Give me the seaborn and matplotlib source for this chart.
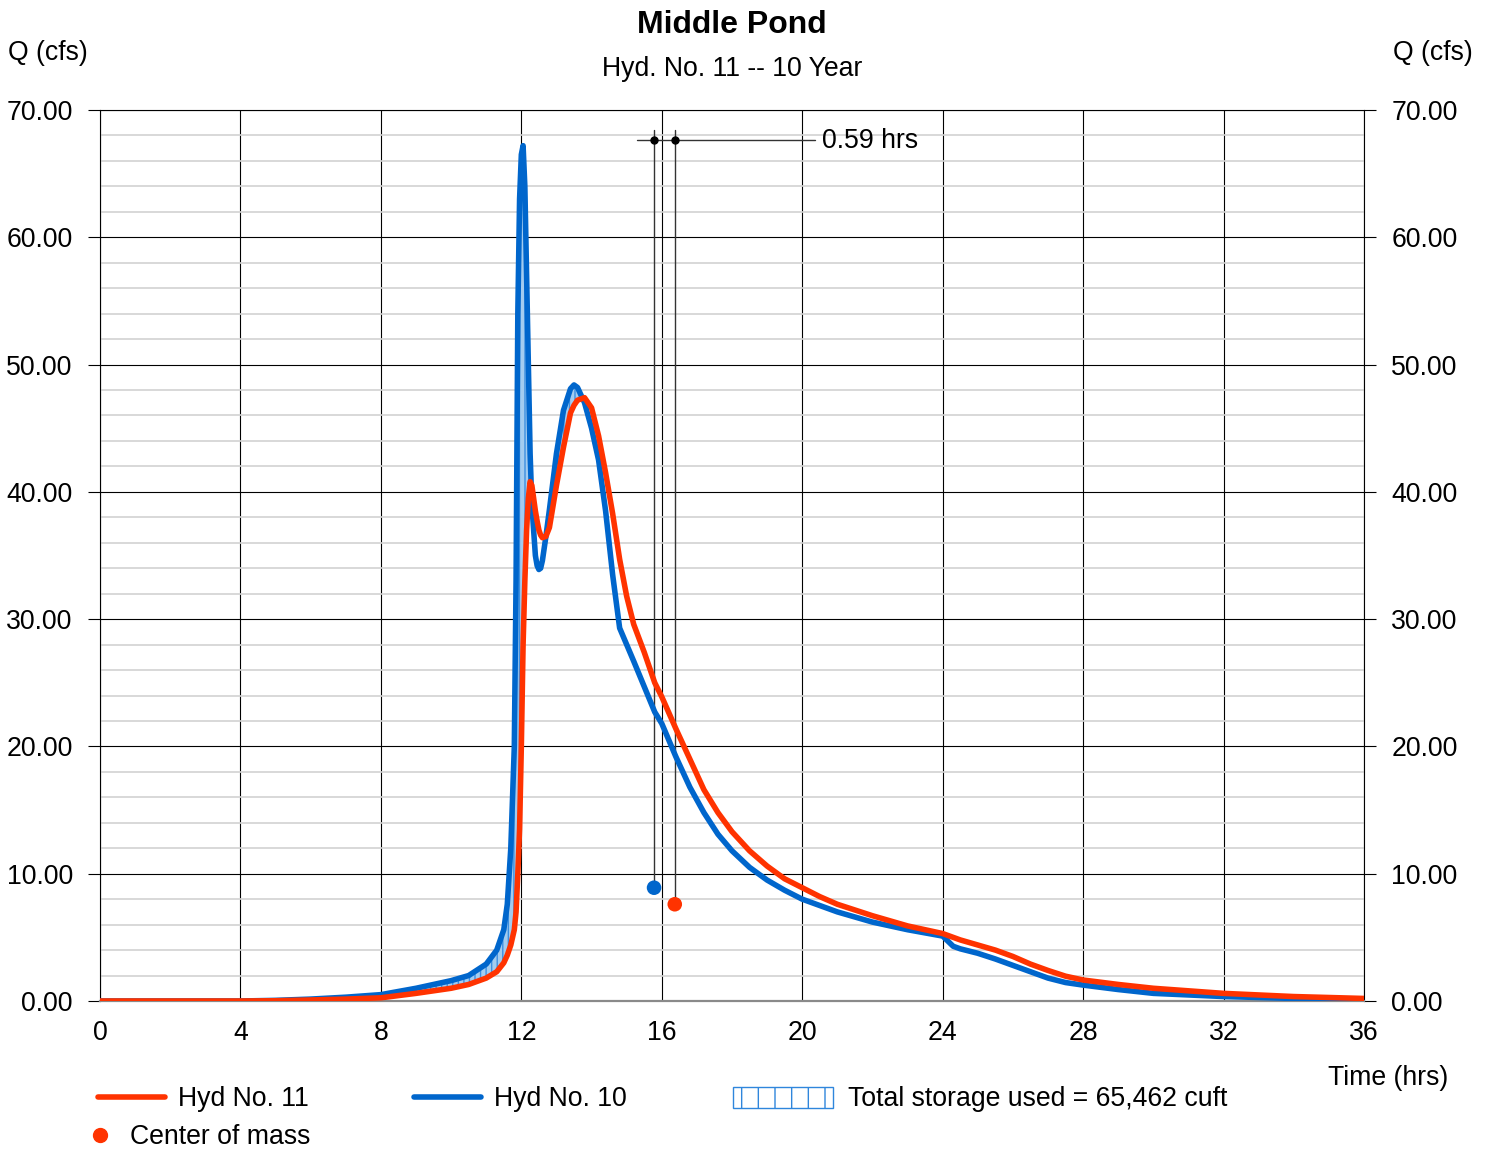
import numpy as np
import pandas as pd
import seaborn as sns
import matplotlib.pyplot as plt
from matplotlib.lines import Line2D
from matplotlib.patches import Rectangle
from matplotlib.ticker import MultipleLocator, FormatStrFormatter

sns.set_style("white")
plt.rcParams['font.family'] = ['Liberation Sans', 'DejaVu Sans']
plt.rcParams['text.color'] = 'black'
plt.rcParams['xtick.color'] = 'black'
plt.rcParams['ytick.color'] = 'black'

# hydrograph values (time in hrs, Q in cfs)
time_hrs = [0, 4, 5, 6, 7, 8, 9, 10, 10.5, 11, 11.3, 11.5, 11.6, 11.7, 11.8, 11.85,
            11.9, 11.95, 12.0, 12.05, 12.1, 12.15, 12.2, 12.25, 12.3, 12.4, 12.45, 12.5,
            12.55, 12.6, 12.7, 12.8, 13.0, 13.2, 13.4, 13.5, 13.6, 13.8, 14.0, 14.2, 14.4,
            14.6, 14.8, 15.0, 15.2, 15.5, 15.8, 16.0, 16.4, 16.8, 17.2, 17.6, 18.0, 18.5,
            19.0, 19.5, 20, 20.5, 21, 22, 23, 24, 24.3, 24.5, 25, 25.5, 26, 26.5, 27, 27.5,
            28, 29, 30, 32, 34, 36]
hyd10_q = [0, 0, 0.05, 0.15, 0.3, 0.5, 1.0, 1.6, 2.0, 2.9, 4.0, 5.6, 7.6, 12.0, 20, 33,
           54, 63, 66.5, 67.2, 64, 57, 50, 43, 39, 35, 34.2, 33.9,
           34.0, 34.6, 36.5, 38.6, 43, 46.4, 48.1, 48.4, 48.2, 47.0, 45.0, 42.5, 38.5,
           33.5, 29.3, 28.0, 26.7, 24.7, 22.7, 21.8, 19.2, 16.8, 14.8, 13.1, 11.8, 10.5,
           9.5, 8.7, 8.0, 7.5, 7.0, 6.2, 5.6, 5.1, 4.3, 4.1, 3.75, 3.3, 2.8, 2.3, 1.8, 1.45,
           1.25, 0.9, 0.6, 0.35, 0.2, 0.1]
hyd11_q = [0, 0, 0.02, 0.08, 0.15, 0.25, 0.6, 1.0, 1.3, 1.8, 2.3, 3.0, 3.6, 4.4, 5.6, 7,
           10, 13.5, 20, 28, 33, 37, 39.5, 40.8, 40.5, 38.5, 37.7, 37.0,
           36.6, 36.4, 36.5, 37.2, 40.5, 43.5, 46.2, 46.8, 47.2, 47.4, 46.6, 44.4, 41.5,
           38.3, 34.7, 31.8, 29.6, 27.4, 25.0, 23.9, 21.4, 19.0, 16.6, 14.8, 13.3, 11.8,
           10.6, 9.6, 8.9, 8.2, 7.6, 6.7, 5.9, 5.3, 5.0, 4.8, 4.4, 4.0, 3.5, 2.9, 2.4, 1.95,
           1.65, 1.3, 1.0, 0.6, 0.35, 0.2]

# centers of mass
com_time = [15.78, 16.37]
com_q = [8.9, 7.6]
lag_label = "0.59 hrs"

red = '#ff3300'
blue = '#0066cc'
FS = 19.2

df = pd.DataFrame({'t': time_hrs, 'in': hyd10_q, 'out': hyd11_q})

W, H = 1491, 1149
fig = plt.figure(figsize=(W / 100, H / 100), dpi=100)
ax = fig.add_axes([100 / W, 1 - 1001 / H, 1264 / W, 891 / H])

# storage shading
ax.fill_between(df['t'], df['out'], df['in'], where=df['in'] > df['out'], interpolate=True,
                facecolor='#a3ccf0', edgecolor='#3d8fe0', hatch='|||', linewidth=0, zorder=2)

line_kw = dict(linewidth=4.0, estimator=None, solid_joinstyle='round', solid_capstyle='round')
sns.lineplot(data=df, x='t', y='in', ax=ax, color=blue, zorder=3, **line_kw)
sns.lineplot(data=df, x='t', y='out', ax=ax, color=red, zorder=4, **line_kw)

# center of mass lines / markers
top_line = 68.4
dim_y = 67.65
for tc, qc in zip(com_time, com_q):
    ax.plot([tc, tc], [qc, top_line], color='#333333', lw=1, zorder=2)
sns.scatterplot(x=com_time, y=com_q, hue=['a', 'b'], palette=[blue, red], s=110,
                edgecolor='none', legend=False, ax=ax, zorder=5)
ax.plot([15.3, 20.37], [dim_y, dim_y], color='#333333', lw=1, zorder=2)
ax.plot(com_time, [dim_y, dim_y], 'o', color='black', ms=5, zorder=5)
ax.text(20.57, dim_y - 0.1, lag_label, fontsize=FS, va='center', ha='left')

ax.set_xlim(0, 36)
ax.set_ylim(0, 70)
ax.set_xticks(np.arange(0, 37, 4))
ax.set_yticks(np.arange(0, 71, 10))
ax.yaxis.set_minor_locator(MultipleLocator(2))
ax.yaxis.set_major_formatter(FormatStrFormatter('%.2f'))
ax.set_xlabel('')
ax.set_ylabel('')
ax.set_axisbelow(True)
ax.grid(which='minor', axis='y', color='#d2d2d2', lw=1.2)
ax.grid(which='major', axis='both', color='black', lw=0.8)
ax.tick_params(axis='y', which='major', length=8.6, width=0.8, direction='out',
               left=True, right=True, labelleft=True, labelright=True, labelsize=FS, pad=11)
ax.tick_params(axis='y', which='minor', length=0)
ax.tick_params(axis='x', length=0, labelsize=FS, pad=14)
for s in ['left', 'right', 'top']:
    ax.spines[s].set_color('black')
    ax.spines[s].set_linewidth(0.8)
ax.spines['bottom'].set_color('#8a8a8a')
ax.spines['bottom'].set_linewidth(1.6)

# titles and axis labels
fig.text(732 / W, 1 - 25 / H, 'Middle Pond', fontsize=23, fontweight='bold', ha='center', va='center')
fig.text(732 / W, 1 - 69 / H, 'Hyd. No. 11 -- 10 Year', fontsize=FS, ha='center', va='center')
fig.text(8 / W, 1 - 53 / H, 'Q (cfs)', fontsize=FS, ha='left', va='center')
fig.text(1473 / W, 1 - 53 / H, 'Q (cfs)', fontsize=FS, ha='right', va='center')
fig.text(1448 / W, 1 - 1078 / H, 'Time (hrs)', fontsize=FS, ha='right', va='center')

# legend
ly1 = 1 - 1097 / H
ly2 = 1 - 1135 / H
fig.add_artist(Line2D([98 / W, 165 / W], [ly1, ly1], color=red, lw=4, transform=fig.transFigure))
fig.text(178 / W, ly1 - 2 / H, 'Hyd No. 11', fontsize=FS, va='center')
fig.add_artist(Line2D([414 / W, 481 / W], [ly1, ly1], color=blue, lw=4, transform=fig.transFigure))
fig.text(494 / W, ly1 - 2 / H, 'Hyd No. 10', fontsize=FS, va='center')
fig.add_artist(Rectangle((733 / W, 1 - 1108 / H), 100 / W, 21 / H, transform=fig.transFigure,
                         facecolor='white', edgecolor='#2f86dc', hatch='|', lw=1))
fig.text(848 / W, ly1 - 2 / H, 'Total storage used = 65,462 cuft', fontsize=FS, va='center')
fig.add_artist(Line2D([100 / W], [ly2], marker='o', ms=10, color=red, lw=0, transform=fig.transFigure))
fig.text(130 / W, ly2 - 2 / H, 'Center of mass', fontsize=FS, va='center')

fig.savefig('out.png', dpi=100)
